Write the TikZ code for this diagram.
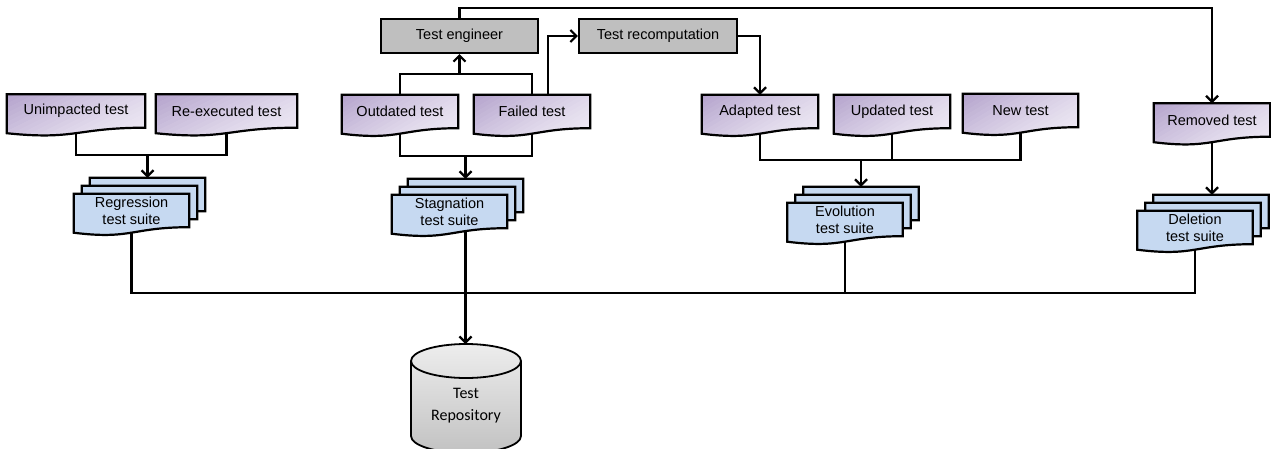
\documentclass[tikz,border=0pt]{standalone}
\usepackage{fontspec}
\setmainfont{Liberation Sans}
\newfontfamily\calib{Carlito}
\usetikzlibrary{arrows.meta,calc}
\pgfdeclarelayer{bg}\pgfdeclarelayer{mid}
\pgfsetlayers{bg,mid,main}
\definecolor{pd}{HTML}{B2A0CB}
\definecolor{pl}{HTML}{EFEBF5}
\definecolor{bl}{HTML}{C6D9F1}
\definecolor{gr}{HTML}{BFBFBF}
\newcommand\purpgrad{%
  \foreach \i in {0,...,24}{%
    \pgfmathsetmacro\ca{\i/25}%
    \pgfmathsetmacro\cb{(\i+1)/25}%
    \pgfmathtruncatemacro\mix{100*(1-(\i+0.5)/25)^1.4}%
    \fill[pd!\mix!pl] let \p1=(path picture bounding box.north west),
      \p2=(path picture bounding box.south east), \n1={\x2-\x1} in
      ({\x1+\ca*\n1/0.6},\y1) -- ({\x1+\cb*\n1/0.6+1pt},\y1)
      -- ({\x1+(\cb-0.4)*\n1/0.6+1pt},\y2) -- ({\x1+(\ca-0.4)*\n1/0.6},\y2) -- cycle;
  }}
\tikzset{
  lbl/.style={font=\fontsize{14.5}{17}\selectfont, align=center, inner sep=0pt},
  doc/.style={lbl, minimum width=#1, minimum height=33pt},
  graybox/.style={lbl, draw=black, line width=2.2pt, fill=gr, minimum width=#1, minimum height=34pt},
  purp/.style={draw=black, line width=2.2pt, fill=pl, path picture={\purpgrad}},
  suitefill/.style={draw=black, line width=2.2pt, fill=bl},
  cylfill/.style={draw=black, line width=1.8pt, top color=gray!14, bottom color=gray!48},
  conn/.style={line width=2.2pt, draw=black},
  arr/.style={conn, -{Straight Barb[length=6pt,width=12pt]}},
}
\newcommand\docpath[2]{%
  \begin{pgfonlayer}{mid}
  \path[#2] let \p1=(#1.north west), \p2=(#1.south east), \n1={\y1-\y2} in
    (\p1) -- (\x2,\y1) -- (\p2)
    .. controls ({(\x1+\x2)/2},\y2) and ({(\x1+\x2)/2},{\y2-0.381*\n1}) ..
    (\x1,{\y2-0.165*\n1}) -- cycle;
  \end{pgfonlayer}}
\newcommand\suite[4]{%
  \node[doc=115pt] (#12) at (#2+16,#3-16) {};
  \node[doc=115pt] (#11) at (#2+8,#3-8) {};
  \node[doc=115pt] (#1) at (#2,#3) {#4};
  \docpath{#12}{suitefill}\docpath{#11}{suitefill}\docpath{#1}{suitefill}}
\begin{document}
\begin{tikzpicture}[x=1pt,y=-1pt]
\useasboundingbox (0,0) rectangle (1271,448);
% gray boxes
\node[graybox=157pt] (eng) at (459.5,36) {Test engineer};
\node[graybox=158pt] (recomp) at (658,36) {Test recomputation};
% test documents
\node[doc=138pt] (unimp) at (76,111) {Unimpacted test};
\node[doc=141pt] (reexec) at (226.5,111) {Re-executed test};
\node[doc=116pt] (outdated) at (400,111.5) {Outdated test};
\node[doc=116pt] (failed) at (532,111.5) {Failed test};
\node[doc=116pt] (adapted) at (760,111.5) {Adapted test};
\node[doc=116pt] (updated) at (892,111.5) {Updated test};
\node[doc=115pt] (newtest) at (1020.5,110.5) {New test};
\node[doc=116pt] (removed) at (1212,120) {Removed test};
\docpath{unimp}{purp}\docpath{reexec}{purp}\docpath{outdated}{purp}\docpath{failed}{purp}
\docpath{adapted}{purp}\docpath{updated}{purp}\docpath{newtest}{purp}\docpath{removed}{purp}
% suites
\suite{reg}{131.5}{210.5}{Regression\\test suite}
\suite{stag}{449.5}{211.5}{Stagnation\\test suite}
\suite{evo}{845}{219.5}{Evolution\\test suite}
\suite{del}{1195}{227.5}{Deletion\\test suite}
% repository
\begin{pgfonlayer}{mid}
\path[cylfill] (411,361) -- (411,436) arc[start angle=180,end angle=360,x radius=55pt,y radius=17pt]
  -- (521,361) arc[start angle=0,end angle=180,x radius=55pt,y radius=17pt] -- cycle;
\draw[line width=1.8pt] (411,361) arc[start angle=180,end angle=360,x radius=55pt,y radius=17pt];
\end{pgfonlayer}
\node[font=\calib\fontsize{16}{22}\selectfont, align=center, inner sep=0pt] (repo) at (466,406) {Test\\Repository};
\coordinate (repotop) at (465.5,344);
% connectors
\begin{pgfonlayer}{bg}
\draw[arr] (eng.north) -- (eng.north |- 0,8) -| (removed.north);
\draw[conn] (outdated.north) -- (outdated.north |- 0,74) -- (failed.north |- 0,74) -- (failed.north);
\draw[arr] (eng.south |- 0,74) -- (eng.south);
\draw[arr] ([xshift=16pt]failed.north) |- (recomp.west);
\draw[arr] (recomp.east) -| (adapted.north);
\draw[conn] (unimp.center) -- (unimp.center |- 0,155) -- (reexec.center |- 0,155) -- (reexec.center);
\draw[arr] (reg2.north |- 0,155) -- (reg2.north);
\draw[conn] (outdated.center) -- (outdated.center |- 0,156) -- (failed.center |- 0,156) -- (failed.center);
\draw[arr] (stag2.north |- 0,156) -- (stag2.north);
\draw[conn] (adapted.center) -- (adapted.center |- 0,160) -- (newtest.center |- 0,160) -- (newtest.center);
\draw[conn] (updated.center) -- (updated.center |- 0,160);
\draw[arr] (evo2.north |- 0,160) -- (evo2.north);
\draw[arr] (removed.center) -- (removed.center |- del2.north);
\draw[conn] (reg.center) -- (reg.center |- 0,293) -- (del.center |- 0,293) -- (del.center);
\draw[conn] (evo.center) -- (evo.center |- 0,293);
\draw[arr] (stag2.center) -- (repotop);
\end{pgfonlayer}
\end{tikzpicture}
\end{document}
